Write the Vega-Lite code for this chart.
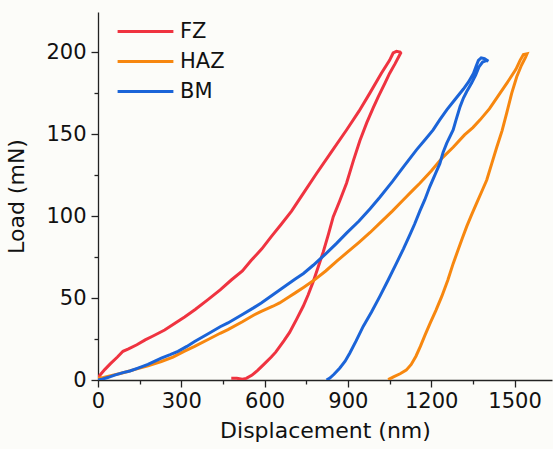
{
  "$schema": "https://vega.github.io/schema/vega-lite/v6.json",
  "autosize": "none",
  "width": 454,
  "height": 368,
  "padding": {"left": 98, "top": 12, "right": 1, "bottom": 69},
  "background": "#fcfcf9",
  "config": {
    "font": "DejaVu Sans",
    "view": {"stroke": null},
    "axis": {"domainColor": "#222", "tickColor": "#222", "labelColor": "#111", "titleColor": "#111", "grid": false, "labelFont": "DejaVu Sans", "titleFont": "DejaVu Sans", "titleFontWeight": "normal", "labelFontSize": 21, "titleFontSize": 22, "domainWidth": 1.3, "tickWidth": 1.3}
  },
  "data": {"values": [
    {"s":"FZ","i":0,"x":0,"y":1.5},{"s":"FZ","i":1,"x":12,"y":4},{"s":"FZ","i":2,"x":25,"y":6.5},{"s":"FZ","i":3,"x":45,"y":10},{"s":"FZ","i":4,"x":70,"y":14},{"s":"FZ","i":5,"x":90,"y":17.5},{"s":"FZ","i":6,"x":110,"y":19},{"s":"FZ","i":7,"x":140,"y":21.5},{"s":"FZ","i":8,"x":170,"y":24.5},{"s":"FZ","i":9,"x":200,"y":27},{"s":"FZ","i":10,"x":240,"y":30.5},{"s":"FZ","i":11,"x":280,"y":35},{"s":"FZ","i":12,"x":312,"y":38.5},{"s":"FZ","i":13,"x":350,"y":43},{"s":"FZ","i":14,"x":396,"y":49},{"s":"FZ","i":15,"x":440,"y":55},{"s":"FZ","i":16,"x":480,"y":61},{"s":"FZ","i":17,"x":520,"y":66.5},{"s":"FZ","i":18,"x":552,"y":73},{"s":"FZ","i":19,"x":590,"y":80},{"s":"FZ","i":20,"x":624,"y":87.5},{"s":"FZ","i":21,"x":660,"y":95},{"s":"FZ","i":22,"x":697,"y":103},{"s":"FZ","i":23,"x":740,"y":114},{"s":"FZ","i":24,"x":787,"y":126},{"s":"FZ","i":25,"x":840,"y":139},{"s":"FZ","i":26,"x":895,"y":152.5},{"s":"FZ","i":27,"x":940,"y":164},{"s":"FZ","i":28,"x":979,"y":175},{"s":"FZ","i":29,"x":1020,"y":187},{"s":"FZ","i":30,"x":1050,"y":195},{"s":"FZ","i":31,"x":1063,"y":199.5},{"s":"FZ","i":32,"x":1075,"y":200.5},{"s":"FZ","i":33,"x":1088,"y":200},
    {"s":"FZ","i":34,"x":1090,"y":199.5},{"s":"FZ","i":35,"x":1070,"y":193},{"s":"FZ","i":36,"x":1050,"y":187},{"s":"FZ","i":37,"x":1033,"y":181},{"s":"FZ","i":38,"x":1010,"y":173},{"s":"FZ","i":39,"x":991,"y":166},{"s":"FZ","i":40,"x":968,"y":157},{"s":"FZ","i":41,"x":943,"y":146},{"s":"FZ","i":42,"x":920,"y":134},{"s":"FZ","i":43,"x":895,"y":120},{"s":"FZ","i":44,"x":870,"y":109},{"s":"FZ","i":45,"x":847,"y":99.5},{"s":"FZ","i":46,"x":830,"y":89},{"s":"FZ","i":47,"x":811,"y":78},{"s":"FZ","i":48,"x":793,"y":69},{"s":"FZ","i":49,"x":775,"y":60},{"s":"FZ","i":50,"x":757,"y":52},{"s":"FZ","i":51,"x":739,"y":45},{"s":"FZ","i":52,"x":715,"y":37},{"s":"FZ","i":53,"x":690,"y":29},{"s":"FZ","i":54,"x":670,"y":24},{"s":"FZ","i":55,"x":655,"y":20.5},{"s":"FZ","i":56,"x":640,"y":17},{"s":"FZ","i":57,"x":624,"y":14},{"s":"FZ","i":58,"x":600,"y":10},{"s":"FZ","i":59,"x":576,"y":6},{"s":"FZ","i":60,"x":555,"y":3},{"s":"FZ","i":61,"x":534,"y":1},{"s":"FZ","i":62,"x":520,"y":0.5},{"s":"FZ","i":63,"x":500,"y":1},{"s":"FZ","i":64,"x":480,"y":1},
    {"s":"HAZ","i":0,"x":0,"y":1},{"s":"HAZ","i":1,"x":20,"y":1.5},{"s":"HAZ","i":2,"x":50,"y":2.8},{"s":"HAZ","i":3,"x":80,"y":4},{"s":"HAZ","i":4,"x":107,"y":5.2},{"s":"HAZ","i":5,"x":140,"y":6.8},{"s":"HAZ","i":6,"x":180,"y":8.7},{"s":"HAZ","i":7,"x":228,"y":11.3},{"s":"HAZ","i":8,"x":270,"y":14},{"s":"HAZ","i":9,"x":310,"y":17.5},{"s":"HAZ","i":10,"x":348,"y":20.5},{"s":"HAZ","i":11,"x":400,"y":25},{"s":"HAZ","i":12,"x":440,"y":28.5},{"s":"HAZ","i":13,"x":468,"y":30.7},{"s":"HAZ","i":14,"x":520,"y":35.5},{"s":"HAZ","i":15,"x":560,"y":39.5},{"s":"HAZ","i":16,"x":588,"y":41.8},{"s":"HAZ","i":17,"x":630,"y":45},{"s":"HAZ","i":18,"x":654,"y":47},{"s":"HAZ","i":19,"x":690,"y":51},{"s":"HAZ","i":20,"x":709,"y":53},{"s":"HAZ","i":21,"x":740,"y":56.5},{"s":"HAZ","i":22,"x":775,"y":60.5},{"s":"HAZ","i":23,"x":820,"y":66.5},{"s":"HAZ","i":24,"x":860,"y":72.5},{"s":"HAZ","i":25,"x":895,"y":77.5},{"s":"HAZ","i":26,"x":940,"y":84},{"s":"HAZ","i":27,"x":980,"y":90},{"s":"HAZ","i":28,"x":1015,"y":95.7},{"s":"HAZ","i":29,"x":1060,"y":103},{"s":"HAZ","i":30,"x":1100,"y":110},{"s":"HAZ","i":31,"x":1135,"y":116},{"s":"HAZ","i":32,"x":1159,"y":120},{"s":"HAZ","i":33,"x":1200,"y":127.5},{"s":"HAZ","i":34,"x":1240,"y":135.5},{"s":"HAZ","i":35,"x":1279,"y":142},{"s":"HAZ","i":36,"x":1320,"y":149.5},{"s":"HAZ","i":37,"x":1350,"y":154},{"s":"HAZ","i":38,"x":1376,"y":158.7},{"s":"HAZ","i":39,"x":1410,"y":165.5},{"s":"HAZ","i":40,"x":1448,"y":175},{"s":"HAZ","i":41,"x":1480,"y":183},{"s":"HAZ","i":42,"x":1505,"y":189.5},{"s":"HAZ","i":43,"x":1520,"y":195},{"s":"HAZ","i":44,"x":1532,"y":198.5},{"s":"HAZ","i":45,"x":1545,"y":199},
    {"s":"HAZ","i":46,"x":1540,"y":197},{"s":"HAZ","i":47,"x":1525,"y":192},{"s":"HAZ","i":48,"x":1508,"y":185},{"s":"HAZ","i":49,"x":1490,"y":175},{"s":"HAZ","i":50,"x":1472,"y":163},{"s":"HAZ","i":51,"x":1455,"y":152},{"s":"HAZ","i":52,"x":1436,"y":142},{"s":"HAZ","i":53,"x":1418,"y":132},{"s":"HAZ","i":54,"x":1400,"y":122},{"s":"HAZ","i":55,"x":1382,"y":115},{"s":"HAZ","i":56,"x":1364,"y":108},{"s":"HAZ","i":57,"x":1346,"y":101},{"s":"HAZ","i":58,"x":1328,"y":93.7},{"s":"HAZ","i":59,"x":1312,"y":86.5},{"s":"HAZ","i":60,"x":1296,"y":79},{"s":"HAZ","i":61,"x":1279,"y":71},{"s":"HAZ","i":62,"x":1260,"y":61},{"s":"HAZ","i":63,"x":1238,"y":51},{"s":"HAZ","i":64,"x":1217,"y":42.5},{"s":"HAZ","i":65,"x":1197,"y":35},{"s":"HAZ","i":66,"x":1178,"y":27.5},{"s":"HAZ","i":67,"x":1161,"y":20.5},{"s":"HAZ","i":68,"x":1145,"y":14.5},{"s":"HAZ","i":69,"x":1128,"y":9.5},{"s":"HAZ","i":70,"x":1110,"y":6},{"s":"HAZ","i":71,"x":1088,"y":3.8},{"s":"HAZ","i":72,"x":1066,"y":2},{"s":"HAZ","i":73,"x":1045,"y":0.2},
    {"s":"BM","i":0,"x":0,"y":0},{"s":"BM","i":1,"x":15,"y":0.5},{"s":"BM","i":2,"x":35,"y":1.5},{"s":"BM","i":3,"x":60,"y":3},{"s":"BM","i":4,"x":90,"y":4.5},{"s":"BM","i":5,"x":115,"y":5.5},{"s":"BM","i":6,"x":144,"y":7.3},{"s":"BM","i":7,"x":180,"y":9.5},{"s":"BM","i":8,"x":228,"y":13.4},{"s":"BM","i":9,"x":260,"y":15.5},{"s":"BM","i":10,"x":288,"y":17.5},{"s":"BM","i":11,"x":320,"y":20.5},{"s":"BM","i":12,"x":348,"y":23.5},{"s":"BM","i":13,"x":400,"y":28.5},{"s":"BM","i":14,"x":440,"y":32.5},{"s":"BM","i":15,"x":468,"y":34.8},{"s":"BM","i":16,"x":520,"y":40},{"s":"BM","i":17,"x":560,"y":44},{"s":"BM","i":18,"x":588,"y":47},{"s":"BM","i":19,"x":630,"y":52},{"s":"BM","i":20,"x":672,"y":57},{"s":"BM","i":21,"x":709,"y":61.5},{"s":"BM","i":22,"x":740,"y":65},{"s":"BM","i":23,"x":775,"y":70},{"s":"BM","i":24,"x":820,"y":77},{"s":"BM","i":25,"x":860,"y":83.5},{"s":"BM","i":26,"x":895,"y":89.6},{"s":"BM","i":27,"x":940,"y":97},{"s":"BM","i":28,"x":980,"y":104.5},{"s":"BM","i":29,"x":1015,"y":111.5},{"s":"BM","i":30,"x":1060,"y":121},{"s":"BM","i":31,"x":1100,"y":130},{"s":"BM","i":32,"x":1147,"y":140.4},{"s":"BM","i":33,"x":1180,"y":147},{"s":"BM","i":34,"x":1207,"y":152.6},{"s":"BM","i":35,"x":1230,"y":158.5},{"s":"BM","i":36,"x":1256,"y":164.8},{"s":"BM","i":37,"x":1285,"y":171},{"s":"BM","i":38,"x":1316,"y":177.5},{"s":"BM","i":39,"x":1335,"y":182},{"s":"BM","i":40,"x":1352,"y":187},{"s":"BM","i":41,"x":1362,"y":191.5},{"s":"BM","i":42,"x":1370,"y":195},{"s":"BM","i":43,"x":1380,"y":196.5},{"s":"BM","i":44,"x":1392,"y":196},{"s":"BM","i":45,"x":1406,"y":194.5},
    {"s":"BM","i":46,"x":1400,"y":195},{"s":"BM","i":47,"x":1385,"y":194},{"s":"BM","i":48,"x":1372,"y":191},{"s":"BM","i":49,"x":1360,"y":186},{"s":"BM","i":50,"x":1345,"y":181},{"s":"BM","i":51,"x":1328,"y":176},{"s":"BM","i":52,"x":1316,"y":172},{"s":"BM","i":53,"x":1304,"y":166.8},{"s":"BM","i":54,"x":1290,"y":159},{"s":"BM","i":55,"x":1279,"y":152.6},{"s":"BM","i":56,"x":1256,"y":144.5},{"s":"BM","i":57,"x":1243,"y":139},{"s":"BM","i":58,"x":1231,"y":132},{"s":"BM","i":59,"x":1213,"y":125},{"s":"BM","i":60,"x":1195,"y":118},{"s":"BM","i":61,"x":1177,"y":110},{"s":"BM","i":62,"x":1159,"y":103},{"s":"BM","i":63,"x":1140,"y":95},{"s":"BM","i":64,"x":1123,"y":88.5},{"s":"BM","i":65,"x":1100,"y":80},{"s":"BM","i":66,"x":1075,"y":71.3},{"s":"BM","i":67,"x":1045,"y":61},{"s":"BM","i":68,"x":1015,"y":51},{"s":"BM","i":69,"x":985,"y":41.5},{"s":"BM","i":70,"x":955,"y":32.7},{"s":"BM","i":71,"x":930,"y":24},{"s":"BM","i":72,"x":907,"y":16.5},{"s":"BM","i":73,"x":890,"y":11.5},{"s":"BM","i":74,"x":871,"y":7.3},{"s":"BM","i":75,"x":850,"y":3.5},{"s":"BM","i":76,"x":835,"y":1.2},{"s":"BM","i":77,"x":823,"y":0}
  ]},
  "mark": {"type": "line", "strokeWidth": 3, "clip": true},
  "encoding": {
    "x": {"field": "x", "type": "quantitative", "title": "Displacement (nm)",
      "scale": {"domain": [0, 1635], "nice": false, "zero": false},
      "axis": {"values": [0,150,300,450,600,750,900,1050,1200,1350,1500], "labelExpr": "datum.value % 300 === 0 ? datum.label : ''", "tickSize": {"condition": {"test": "datum.value % 300 === 0", "value": 7}, "value": 4}, "labelPadding": 3, "titlePadding": 9, "labelFlush": false, "format": "d"}},
    "y": {"field": "y", "type": "quantitative", "title": "Load (mN)",
      "scale": {"domain": [0, 224.5], "nice": false},
      "axis": {"values": [0,25,50,75,100,125,150,175,200], "labelExpr": "datum.value % 50 === 0 ? datum.label : ''", "tickSize": {"condition": {"test": "datum.value % 50 === 0", "value": 7}, "value": 4}, "labelPadding": 5, "titlePadding": 17, "labelFlush": false}},
    "color": {"field": "s", "type": "nominal", "sort": ["FZ","HAZ","BM"],
      "scale": {"domain": ["FZ","HAZ","BM"], "range": ["#ef3340","#f7870f","#1b64d8"]},
      "legend": {"title": null, "orient": "none", "legendX": 28, "legendY": 0, "symbolType": "M-1.55,0H1.55", "symbolSize": 1296, "symbolStrokeWidth": 3, "labelFontSize": 21, "labelFont": "DejaVu Sans", "labelColor": "#111", "rowPadding": 0, "labelOffset": 15}},
    "order": {"field": "i", "type": "quantitative"}
  }
}
